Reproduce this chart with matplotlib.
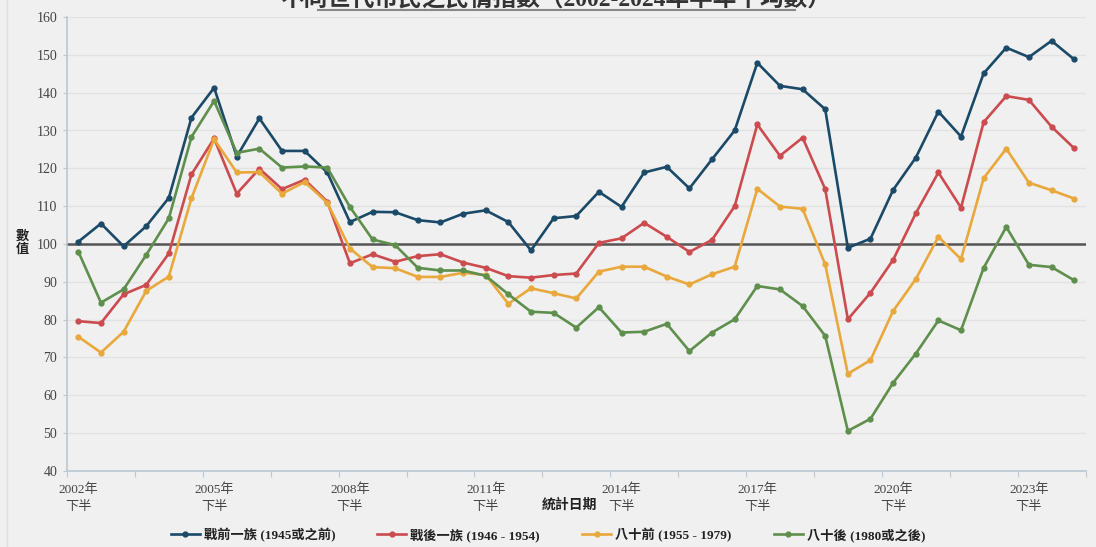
import numpy as np
import matplotlib
matplotlib.use("Agg")
from matplotlib import pyplot as plt
from matplotlib.lines import Line2D

plt.rcParams['font.family'] = ['Liberation Serif', 'Noto Sans CJK TC']

# 2002年下半 ... 2024年下半 (半年均數)
periods = [f"{y}年\n{h}" for y in range(2002, 2025) for h in ("上半", "下半")][1:]
series_names = ["戰前一族 (1945或之前)", "戰後一族 (1946 - 1954)",
                "八十前 (1955 - 1979)", "八十後 (1980或之後)"]

prewar = [100.6, 105.4, 99.4, 104.7, 112.2, 133.4, 141.3, 123.1, 133.2, 124.6,
          124.6, 118.9, 105.8, 108.5, 108.4, 106.3, 105.7, 108.0, 108.9, 105.8,
          98.3, 106.8, 107.4, 113.8, 109.8, 118.9, 120.4, 114.7, 122.4, 130.0,
          147.9, 141.8, 140.9, 135.6, 99.0, 101.4, 114.3, 122.8, 135.0, 128.4,
          145.1, 151.9, 149.4, 153.7, 148.8]
postwar = [79.6, 79.1, 86.7, 89.2, 97.5, 118.4, 127.9, 113.3, 119.9, 114.5,
           117.0, 111.2, 94.9, 97.3, 95.3, 96.8, 97.3, 95.1, 93.7, 91.5,
           91.1, 91.8, 92.2, 100.3, 101.5, 105.6, 101.9, 97.9, 101.1, 110.0,
           131.6, 123.3, 128.1, 114.5, 80.1, 87.1, 95.8, 108.1, 118.9, 109.6,
           132.2, 139.1, 138.1, 131.0, 125.3]
pre80 = [75.5, 71.3, 76.8, 87.6, 91.4, 112.1, 127.7, 118.9, 119.0, 113.3,
         116.4, 110.9, 98.8, 93.9, 93.6, 91.3, 91.3, 92.4, 91.8, 84.2,
         88.3, 87.0, 85.6, 92.7, 94.0, 94.0, 91.4, 89.3, 92.0, 94.0,
         114.6, 109.9, 109.3, 94.6, 65.7, 69.3, 82.3, 90.7, 101.9, 96.0,
         117.4, 125.2, 116.2, 114.2, 112.0]
post80 = [98.0, 84.5, 88.0, 97.1, 106.8, 128.3, 137.8, 124.1, 125.2, 120.2,
          120.5, 120.2, 109.8, 101.2, 99.7, 93.7, 93.0, 93.0, 91.6, 86.7,
          82.1, 81.8, 77.9, 83.3, 76.6, 76.8, 78.9, 71.7, 76.6, 80.1,
          88.9, 88.0, 83.6, 75.7, 50.6, 53.8, 63.3, 71.0, 79.8, 77.2,
          93.7, 104.5, 94.5, 93.9, 90.4]
colors = ["#1b4a68", "#cc4b4f", "#e9a83c", "#5e8f4c"]

bg = "#f0f0f0"
fig = plt.figure(figsize=(10.96, 5.47), dpi=100, facecolor=bg)
ax = fig.add_axes([67 / 1096, 76 / 547, (1085.5 - 67) / 1096, 454 / 547], facecolor=bg)

x = np.arange(len(periods))
for vals, name, c in zip([prewar, postwar, pre80, post80], series_names, colors):
    ax.plot(x, vals, '-', color=c, lw=1.9, marker='o', ms=3.5, label=name, zorder=3)

ax.axhline(100, color="#555555", lw=1.8, zorder=2)

ax.set_xlim(-0.5, len(periods) - 0.5)
ax.set_ylim(40, 160)
ax.set_yticks(np.arange(40, 161, 10))
ax.grid(axis='y', color="#e2e2e2", lw=1)
ax.set_axisbelow(True)

# category-boundary ticks every 3 half-years, labels every 6
ax.set_xticks(np.arange(-0.5, len(periods), 3), minor=False)
ax.set_xticklabels([])
ax.set_xticks(x[::6], minor=True)
ax.set_xticklabels([periods[i] for i in x[::6]], minor=True, linespacing=1.55)
ax.tick_params(axis='x', which='minor', length=0, pad=9, labelsize=9.5, labelcolor="#444444")
ax.tick_params(axis='x', which='major', length=4, color="#b8c8d6")
ax.tick_params(axis='y', length=3, color="#b8c8d6", labelsize=10, labelcolor="#444444", pad=4)

for s in ["top", "right"]:
    ax.spines[s].set_visible(False)
for s in ["left", "bottom"]:
    ax.spines[s].set_color("#b8c8d6")
    ax.spines[s].set_linewidth(1.2)

fig.text(570 / 1096, 1 - 505 / 547, "統計日期", ha='center', va='center',
         fontsize=10, fontweight='bold', color="#222222")
fig.text(22 / 1096, 1 - 243 / 547, "數\n值", ha='center', va='center',
         fontsize=9.5, fontweight='bold', color="#222222", linespacing=1.0)

# title, cut off at the top as in the source
fig.text(556 / 1096, 1 - 5.5 / 547, "不同世代市民之民情指數（2002-2024年半年平均數）",
         ha='center', va='baseline', fontsize=17, fontweight='bold', color="#333333")
fig.add_artist(Line2D([318 / 1096, 795 / 1096], [1 - 9.5 / 547] * 2,
                      transform=fig.transFigure, color="#888888", lw=1.5))
fig.add_artist(Line2D([7 / 1096] * 2, [0, 1], transform=fig.transFigure,
                      color="#d9e3d9", lw=1))

leg = fig.legend(loc='center', bbox_to_anchor=(548 / 1096, 1 - 535 / 547), ncol=4,
                 frameon=False, fontsize=9.5, handlelength=2.2, columnspacing=3.2,
                 handletextpad=0.3)
for t in leg.get_texts():
    t.set_fontweight('bold')
    t.set_color("#222222")

fig.savefig("out.png", dpi=100, facecolor=bg)
